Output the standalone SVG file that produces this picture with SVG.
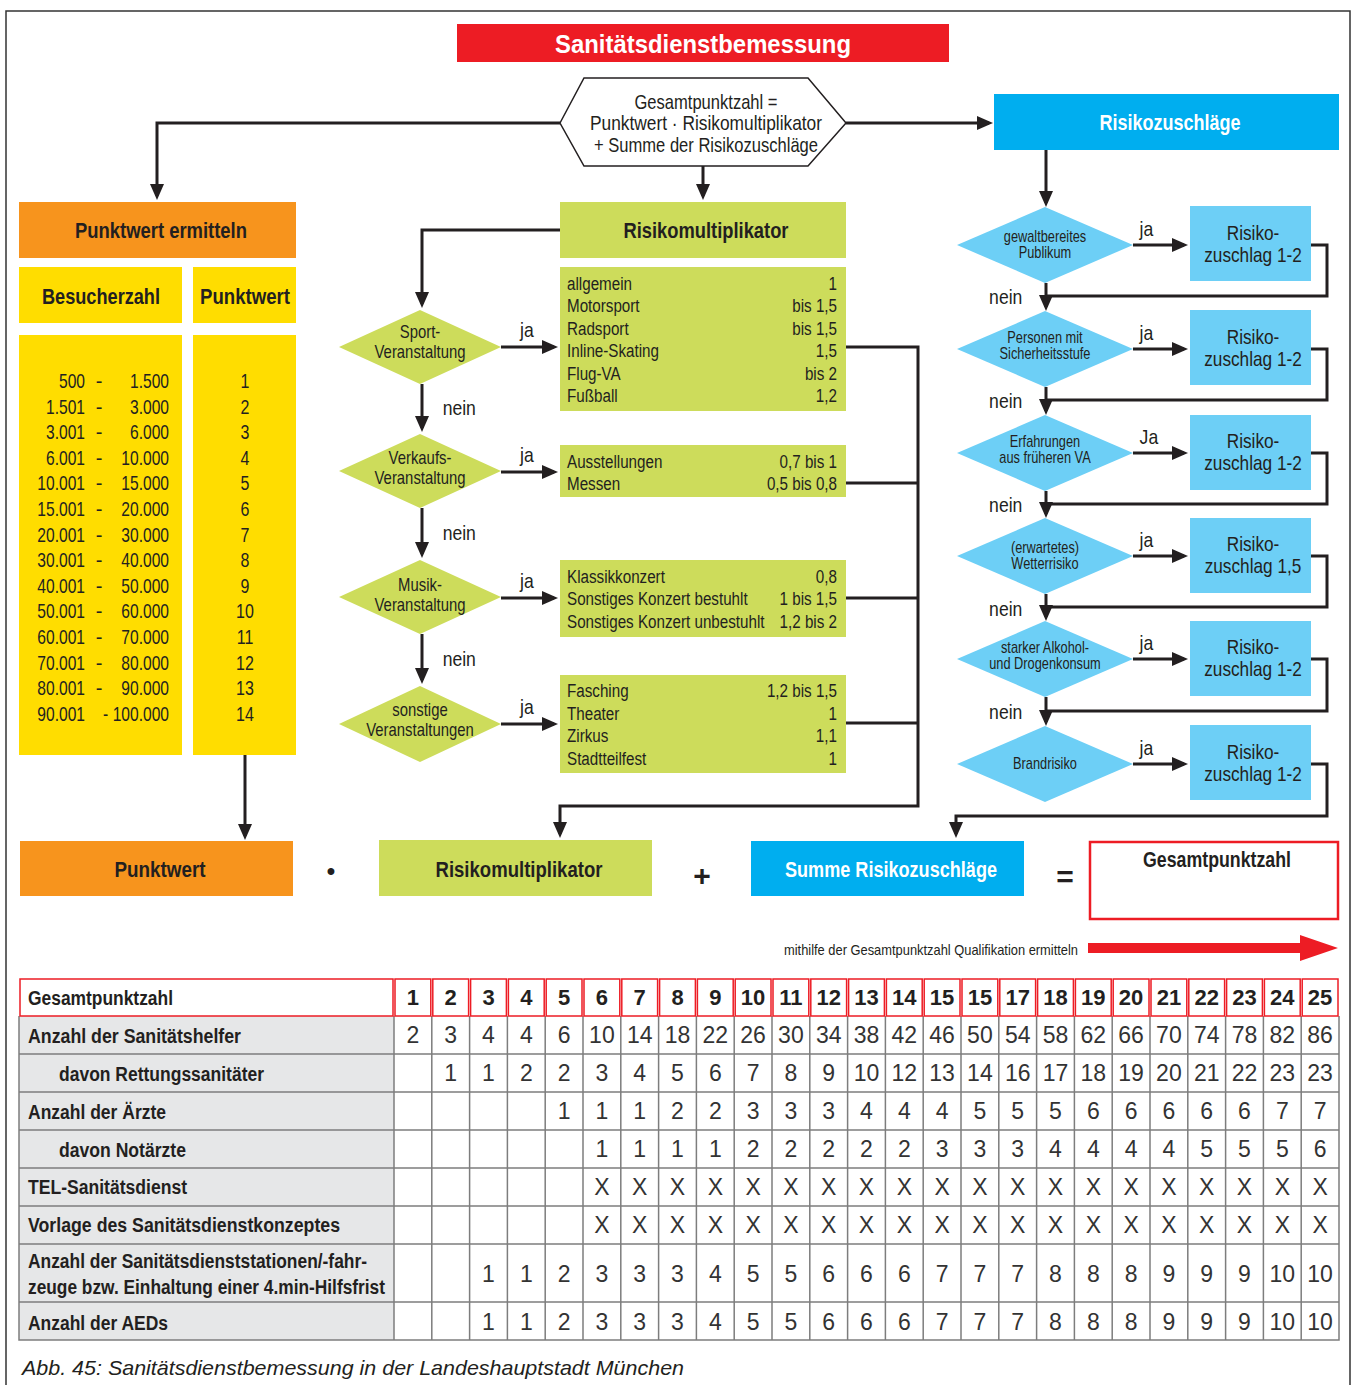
<svg xmlns="http://www.w3.org/2000/svg" width="1353" height="1385" viewBox="0 0 1353 1385">
<style>
text{font-family:"Liberation Sans",Arial,sans-serif;fill:#231F20}
.b{font-weight:bold}
.c{text-anchor:middle}
.e{text-anchor:end}
.w{fill:#fff}
.ln{fill:none;stroke:#231F20;stroke-width:3}
.lna{fill:none;stroke:#231F20;stroke-width:3;marker-end:url(#ah)}
.org{fill:#F7941D}
.yel{fill:#FFDD00}
.grn{fill:#CDDC5B}
.blu{fill:#00AEEF}
.lbl{fill:#6DCFF6}
.s18{font-size:19px}
.s17{font-size:17.5px}
.s20{font-size:21px}
.hd{font-size:22px;font-weight:bold}
.num{font-size:23px;fill:#333}
.hn{font-size:22px;font-weight:bold}
.lab{font-size:20px;font-weight:bold}
.grid{stroke:#7d7d7d;stroke-width:1.5;fill:none}
.red{fill:none;stroke:#ED1C24;stroke-width:1.5}
</style>
<defs>
<marker id="ah" markerUnits="userSpaceOnUse" viewBox="0 0 16 14" refX="12" refY="7" markerWidth="16" markerHeight="14" orient="auto">
<path d="M0,0 L16,7 L0,14 z" fill="#231F20"/>
</marker>
</defs>
<rect width="1353" height="1385" fill="#fff"/>
<path d="M6,1385 V11 H1350 V1385" fill="none" stroke="#333" stroke-width="1.5"/>

<g id="title">
<rect x="457" y="24" width="492" height="38" fill="#ED1C24"/>
<text x="703" y="53" class="c b w" font-size="25" textLength="296" lengthAdjust="spacingAndGlyphs">Sanitätsdienstbemessung</text>
</g>

<g id="formel">
<polygon points="560,123 584,78 808,78 846,123 808,166 584,166" fill="#fff" stroke="#231F20" stroke-width="1.5"/>
<text x="706" y="109" class="c s20" textLength="143" lengthAdjust="spacingAndGlyphs">Gesamtpunktzahl =</text>
<text x="706" y="130" class="c s20" textLength="232" lengthAdjust="spacingAndGlyphs">Punktwert · Risikomultiplikator</text>
<text x="706" y="152" class="c s20" textLength="224" lengthAdjust="spacingAndGlyphs">+ Summe der Risikozuschläge</text>
</g>

<g id="risikozuschlaege">
<rect x="994" y="94" width="345" height="56" class="blu"/>
<text x="1170" y="130" class="c hd w" textLength="141" lengthAdjust="spacingAndGlyphs">Risikozuschläge</text>
</g>

<g id="punktwert-ermitteln">
<rect x="19" y="202" width="277" height="56" class="org"/>
<text x="161" y="238" class="c hd" textLength="172" lengthAdjust="spacingAndGlyphs">Punktwert ermitteln</text>
</g>

<g id="besucherzahl">
<rect x="19" y="267" width="163" height="56" class="yel"/>
<text x="101" y="304" class="c hd" textLength="118" lengthAdjust="spacingAndGlyphs">Besucherzahl</text>
<rect x="19" y="335" width="163" height="420" class="yel"/>
<g font-size="20" class="e" transform="matrix(0.78,0,0,1,18.7,0)">
<text x="85" y="388">500</text><text x="85" y="413.6">1.501</text><text x="85" y="439.2">3.001</text><text x="85" y="464.8">6.001</text>
<text x="85" y="490.4">10.001</text><text x="85" y="516">15.001</text><text x="85" y="541.6">20.001</text><text x="85" y="567.2">30.001</text>
<text x="85" y="592.8">40.001</text><text x="85" y="618.4">50.001</text><text x="85" y="644">60.001</text><text x="85" y="669.6">70.001</text>
<text x="85" y="695.2">80.001</text><text x="85" y="720.8">90.001</text>
</g>
<g font-size="20" class="c">
<text x="99" y="388">-</text><text x="99" y="413.6">-</text><text x="99" y="439.2">-</text><text x="99" y="464.8">-</text>
<text x="99" y="490.4">-</text><text x="99" y="516">-</text><text x="99" y="541.6">-</text><text x="99" y="567.2">-</text>
<text x="99" y="592.8">-</text><text x="99" y="618.4">-</text><text x="99" y="644">-</text><text x="99" y="669.6">-</text>
<text x="99" y="695.2">-</text>
</g>
<g font-size="20" class="e" transform="matrix(0.78,0,0,1,37.18,0)">
<text x="169" y="388">1.500</text><text x="169" y="413.6">3.000</text><text x="169" y="439.2">6.000</text><text x="169" y="464.8">10.000</text>
<text x="169" y="490.4">15.000</text><text x="169" y="516">20.000</text><text x="169" y="541.6">30.000</text><text x="169" y="567.2">40.000</text>
<text x="169" y="592.8">50.000</text><text x="169" y="618.4">60.000</text><text x="169" y="644">70.000</text><text x="169" y="669.6">80.000</text>
<text x="169" y="695.2">90.000</text><text x="169" y="720.8">- 100.000</text>
</g>
</g>

<g id="punktwert-tabelle">
<rect x="193" y="267" width="103" height="56" class="yel"/>
<text x="245" y="304" class="c hd" textLength="90" lengthAdjust="spacingAndGlyphs">Punktwert</text>
<rect x="193" y="335" width="103" height="420" class="yel"/>
<g font-size="20" class="c" transform="matrix(0.8,0,0,1,49,0)">
<text x="245" y="388">1</text><text x="245" y="413.6">2</text><text x="245" y="439.2">3</text><text x="245" y="464.8">4</text>
<text x="245" y="490.4">5</text><text x="245" y="516">6</text><text x="245" y="541.6">7</text><text x="245" y="567.2">8</text>
<text x="245" y="592.8">9</text><text x="245" y="618.4">10</text><text x="245" y="644">11</text><text x="245" y="669.6">12</text>
<text x="245" y="695.2">13</text><text x="245" y="720.8">14</text>
</g>
</g>

<g id="risikomultiplikator">
<rect x="560" y="202" width="286" height="56" class="grn"/>
<text x="706" y="238" class="c hd" textLength="165" lengthAdjust="spacingAndGlyphs">Risikomultiplikator</text>
</g>

<g id="d-sport">
<polygon points="339,347 420,310 501,347 420,384" class="grn"/>
<g class="c s17" transform="matrix(0.85,0,0,1,63,0)">
<text x="420" y="338">Sport-</text>
<text x="420" y="358">Veranstaltung</text>
</g>
</g>
<g id="d-verkauf">
<polygon points="339,471 420,434 501,471 420,508" class="grn"/>
<g class="c s17" transform="matrix(0.85,0,0,1,63,0)">
<text x="420" y="464">Verkaufs-</text>
<text x="420" y="484">Veranstaltung</text>
</g>
</g>
<g id="d-musik">
<polygon points="339,597 420,560 501,597 420,634" class="grn"/>
<g class="c s17" transform="matrix(0.85,0,0,1,63,0)">
<text x="420" y="591">Musik-</text>
<text x="420" y="611">Veranstaltung</text>
</g>
</g>
<g id="d-sonstige">
<polygon points="339,724 420,686 501,724 420,762" class="grn"/>
<g class="c s17" transform="matrix(0.85,0,0,1,63,0)">
<text x="420" y="716">sonstige</text>
<text x="420" y="736">Veranstaltungen</text>
</g>
</g>

<g id="liste-sport">
<rect x="560" y="267" width="286" height="144" class="grn"/>
<g class="s18" transform="matrix(0.8,0,0,1,113.4,0)">
<text x="567" y="290">allgemein</text><text x="567" y="312.5">Motorsport</text><text x="567" y="335">Radsport</text>
<text x="567" y="357.5">Inline-Skating</text><text x="567" y="380">Flug-VA</text><text x="567" y="402.5">Fußball</text>
</g>
<g class="s18 e" transform="matrix(0.8,0,0,1,167.4,0)">
<text x="837" y="290">1</text><text x="837" y="312.5">bis 1,5</text><text x="837" y="335">bis 1,5</text>
<text x="837" y="357.5">1,5</text><text x="837" y="380">bis 2</text><text x="837" y="402.5">1,2</text>
</g>
</g>
<g id="liste-verkauf">
<rect x="560" y="445" width="286" height="52" class="grn"/>
<g class="s18" transform="matrix(0.8,0,0,1,113.4,0)">
<text x="567" y="468">Ausstellungen</text><text x="567" y="490.5">Messen</text>
</g>
<g class="s18 e" transform="matrix(0.8,0,0,1,167.4,0)">
<text x="837" y="468">0,7 bis 1</text><text x="837" y="490.5">0,5 bis 0,8</text>
</g>
</g>
<g id="liste-musik">
<rect x="560" y="560" width="286" height="77" class="grn"/>
<g class="s18" transform="matrix(0.8,0,0,1,113.4,0)">
<text x="567" y="583">Klassikkonzert</text><text x="567" y="605.5">Sonstiges Konzert bestuhlt</text><text x="567" y="628">Sonstiges Konzert unbestuhlt</text>
</g>
<g class="s18 e" transform="matrix(0.8,0,0,1,167.4,0)">
<text x="837" y="583">0,8</text><text x="837" y="605.5">1 bis 1,5</text><text x="837" y="628">1,2 bis 2</text>
</g>
</g>
<g id="liste-sonstige">
<rect x="560" y="675" width="286" height="98" class="grn"/>
<g class="s18" transform="matrix(0.8,0,0,1,113.4,0)">
<text x="567" y="697.5">Fasching</text><text x="567" y="720">Theater</text><text x="567" y="742.5">Zirkus</text><text x="567" y="765">Stadtteilfest</text>
</g>
<g class="s18 e" transform="matrix(0.8,0,0,1,167.4,0)">
<text x="837" y="697.5">1,2 bis 1,5</text><text x="837" y="720">1</text><text x="837" y="742.5">1,1</text><text x="837" y="765">1</text>
</g>
</g>

<g id="r-gewalt">
<polygon points="957,245 1045,207 1133,245 1045,283" class="lbl"/>
<g class="c" font-size="16" transform="matrix(0.8,0,0,1,209,0)">
<text x="1045" y="242">gewaltbereites</text>
<text x="1045" y="258">Publikum</text>
</g>
</g>
<g id="r-personen">
<polygon points="957,349 1045,311 1133,349 1045,387" class="lbl"/>
<g class="c" font-size="16" transform="matrix(0.8,0,0,1,209,0)">
<text x="1045" y="343">Personen mit</text>
<text x="1045" y="359">Sicherheitsstufe</text>
</g>
</g>
<g id="r-erfahrung">
<polygon points="957,453 1045,415 1133,453 1045,491" class="lbl"/>
<g class="c" font-size="16" transform="matrix(0.8,0,0,1,209,0)">
<text x="1045" y="447">Erfahrungen</text>
<text x="1045" y="463">aus früheren VA</text>
</g>
</g>
<g id="r-wetter">
<polygon points="957,556 1045,518 1133,556 1045,594" class="lbl"/>
<g class="c" font-size="16" transform="matrix(0.8,0,0,1,209,0)">
<text x="1045" y="553">(erwartetes)</text>
<text x="1045" y="569">Wetterrisiko</text>
</g>
</g>
<g id="r-alkohol">
<polygon points="957,659 1045,621 1133,659 1045,697" class="lbl"/>
<g class="c" font-size="16" transform="matrix(0.8,0,0,1,209,0)">
<text x="1045" y="653">starker Alkohol-</text>
<text x="1045" y="669">und Drogenkonsum</text>
</g>
</g>
<g id="r-brand">
<polygon points="957,764 1045,726 1133,764 1045,802" class="lbl"/>
<g class="c" font-size="16" transform="matrix(0.8,0,0,1,209,0)">
<text x="1045" y="769">Brandrisiko</text>
</g>
</g>

<g id="z1"><rect x="1190" y="206" width="121" height="75" class="lbl"/><g class="c s20" transform="matrix(0.82,0,0,1,225.54,0)"><text x="1253" y="240">Risiko-</text><text x="1253" y="262">zuschlag 1-2</text></g></g>
<g id="z2"><rect x="1190" y="310" width="121" height="75" class="lbl"/><g class="c s20" transform="matrix(0.82,0,0,1,225.54,0)"><text x="1253" y="344">Risiko-</text><text x="1253" y="366">zuschlag 1-2</text></g></g>
<g id="z3"><rect x="1190" y="415" width="121" height="75" class="lbl"/><g class="c s20" transform="matrix(0.82,0,0,1,225.54,0)"><text x="1253" y="448">Risiko-</text><text x="1253" y="470">zuschlag 1-2</text></g></g>
<g id="z4"><rect x="1190" y="518" width="121" height="75" class="lbl"/><g class="c s20" transform="matrix(0.82,0,0,1,225.54,0)"><text x="1253" y="551">Risiko-</text><text x="1253" y="573">zuschlag 1,5</text></g></g>
<g id="z5"><rect x="1190" y="621" width="121" height="75" class="lbl"/><g class="c s20" transform="matrix(0.82,0,0,1,225.54,0)"><text x="1253" y="654">Risiko-</text><text x="1253" y="676">zuschlag 1-2</text></g></g>
<g id="z6"><rect x="1190" y="725" width="121" height="75" class="lbl"/><g class="c s20" transform="matrix(0.82,0,0,1,225.54,0)"><text x="1253" y="759">Risiko-</text><text x="1253" y="781">zuschlag 1-2</text></g></g>

<g id="connectors">
<path class="lna" d="M560,123 H157 V196"/>
<path class="lna" d="M703,166 V196"/>
<path class="lna" d="M846,123 H989"/>
<path class="lna" d="M245,755 V836"/>
<path class="lna" d="M560,230 H422 V304"/>
<path class="lna" d="M422,384 V428"/>
<path class="lna" d="M422,508 V554"/>
<path class="lna" d="M422,634 V680"/>
<path class="lna" d="M501,347 H554"/>
<path class="lna" d="M501,472 H554"/>
<path class="lna" d="M501,598 H554"/>
<path class="lna" d="M501,724 H554"/>
<path class="lna" d="M846,347 H918 V806 H560 V834"/>
<path class="ln" d="M846,483 H918 M846,598 H918 M846,723 H918"/>
<path class="lna" d="M1046,150 V203"/>
<path class="lna" d="M1046,283 V307"/>
<path class="lna" d="M1046,387 V411"/>
<path class="lna" d="M1046,491 V514"/>
<path class="lna" d="M1046,594 V617"/>
<path class="lna" d="M1046,697 V722"/>
<path class="lna" d="M1133,245 H1184"/>
<path class="lna" d="M1133,349 H1184"/>
<path class="lna" d="M1133,453 H1184"/>
<path class="lna" d="M1133,556 H1184"/>
<path class="lna" d="M1133,659 H1184"/>
<path class="lna" d="M1133,764 H1184"/>
<path class="ln" d="M1311,245 H1327 V296 H1046"/>
<path class="ln" d="M1311,349 H1327 V400 H1046"/>
<path class="ln" d="M1311,453 H1327 V504 H1046"/>
<path class="ln" d="M1311,556 H1327 V607 H1046"/>
<path class="ln" d="M1311,659 H1327 V711 H1046"/>
<path class="lna" d="M1311,764 H1327 V816 H956 V834"/>
<g font-size="20" transform="matrix(0.88,0,0,1,0,0)">
<text x="591" y="337">ja</text><text x="591" y="462">ja</text><text x="591" y="588">ja</text><text x="591" y="714">ja</text>
<text x="503" y="415">nein</text><text x="503" y="540">nein</text><text x="503" y="666">nein</text>
<text x="1295" y="236">ja</text><text x="1295" y="340">ja</text><text x="1295" y="444">Ja</text><text x="1295" y="547">ja</text><text x="1295" y="650">ja</text><text x="1295" y="755">ja</text>
<text x="1124" y="304">nein</text><text x="1124" y="408">nein</text><text x="1124" y="512">nein</text><text x="1124" y="616">nein</text><text x="1124" y="719">nein</text>
</g>
</g>

<g id="eq-punktwert">
<rect x="20" y="841" width="273" height="55" class="org"/>
<text x="160" y="877" class="c hd" textLength="91" lengthAdjust="spacingAndGlyphs">Punktwert</text>
</g>
<text x="331" y="879" class="c b" font-size="24">•</text>
<g id="eq-risikomultiplikator">
<rect x="379" y="840" width="273" height="56" class="grn"/>
<text x="519" y="877" class="c hd" textLength="167" lengthAdjust="spacingAndGlyphs">Risikomultiplikator</text>
</g>
<text x="702" y="886" class="c b" font-size="30">+</text>
<g id="eq-summe">
<rect x="751" y="841" width="273" height="55" class="blu"/>
<text x="891" y="877" class="c hd w" textLength="212" lengthAdjust="spacingAndGlyphs">Summe Risikozuschläge</text>
</g>
<text x="1065" y="887" class="c b" font-size="30">=</text>
<g id="eq-gesamtpunktzahl">
<rect x="1090" y="842" width="248" height="77" fill="#fff" stroke="#ED1C24" stroke-width="2.5"/>
<text x="1217" y="867" class="c hd" textLength="148" lengthAdjust="spacingAndGlyphs">Gesamtpunktzahl</text>
</g>

<g id="qualifikation">
<text x="1078" y="955" class="e" font-size="15" fill="#333" textLength="294" lengthAdjust="spacingAndGlyphs">mithilfe der Gesamtpunktzahl Qualifikation ermitteln</text>
<path d="M1088,943 H1300 V935 L1338,948 L1300,961 V953 H1088 Z" fill="#ED1C24"/>
</g>

<g id="tabelle">
<rect x="19" y="1016" width="375" height="324" fill="#E6E7E8"/>
<g class="grid">
<path d="M19,1016 V1340 H1339 V1016 M19,1054 H1339 M19,1092 H1339 M19,1130 H1339 M19,1168 H1339 M19,1206 H1339 M19,1244 H1339 M19,1302 H1339"/>
<path d="M394,1016 V1340 M431.8,1016 V1340 M469.6,1016 V1340 M507.4,1016 V1340 M545.2,1016 V1340 M583,1016 V1340 M620.8,1016 V1340 M658.6,1016 V1340 M696.4,1016 V1340 M734.2,1016 V1340 M772,1016 V1340 M809.8,1016 V1340 M847.6,1016 V1340 M885.4,1016 V1340 M923.2,1016 V1340 M961,1016 V1340 M998.8,1016 V1340 M1036.6,1016 V1340 M1074.4,1016 V1340 M1112.2,1016 V1340 M1150,1016 V1340 M1187.8,1016 V1340 M1225.6,1016 V1340 M1263.4,1016 V1340 M1301.2,1016 V1340"/>
</g>
<g class="red">
<rect x="20" y="979" width="373" height="37"/>
<rect x="395" y="979" width="35.8" height="37"/><rect x="432.8" y="979" width="35.8" height="37"/><rect x="470.6" y="979" width="35.8" height="37"/><rect x="508.4" y="979" width="35.8" height="37"/><rect x="546.2" y="979" width="35.8" height="37"/>
<rect x="584" y="979" width="35.8" height="37"/><rect x="621.8" y="979" width="35.8" height="37"/><rect x="659.6" y="979" width="35.8" height="37"/><rect x="697.4" y="979" width="35.8" height="37"/><rect x="735.2" y="979" width="35.8" height="37"/>
<rect x="773" y="979" width="35.8" height="37"/><rect x="810.8" y="979" width="35.8" height="37"/><rect x="848.6" y="979" width="35.8" height="37"/><rect x="886.4" y="979" width="35.8" height="37"/><rect x="924.2" y="979" width="35.8" height="37"/>
<rect x="962" y="979" width="35.8" height="37"/><rect x="999.8" y="979" width="35.8" height="37"/><rect x="1037.6" y="979" width="35.8" height="37"/><rect x="1075.4" y="979" width="35.8" height="37"/><rect x="1113.2" y="979" width="35.8" height="37"/>
<rect x="1151" y="979" width="35.8" height="37"/><rect x="1188.8" y="979" width="35.8" height="37"/><rect x="1226.6" y="979" width="35.8" height="37"/><rect x="1264.4" y="979" width="35.8" height="37"/><rect x="1302.2" y="979" width="35.8" height="37"/>
</g>
<text x="28" y="1005" class="lab" textLength="145" lengthAdjust="spacingAndGlyphs">Gesamtpunktzahl</text>
<text x="28" y="1043" class="lab" textLength="213" lengthAdjust="spacingAndGlyphs">Anzahl der Sanitätshelfer</text>
<text x="59" y="1081" class="lab" textLength="205" lengthAdjust="spacingAndGlyphs">davon Rettungssanitäter</text>
<text x="28" y="1119" class="lab" textLength="138" lengthAdjust="spacingAndGlyphs">Anzahl der Ärzte</text>
<text x="59" y="1157" class="lab" textLength="127" lengthAdjust="spacingAndGlyphs">davon Notärzte</text>
<text x="28" y="1194" class="lab" textLength="159" lengthAdjust="spacingAndGlyphs">TEL-Sanitätsdienst</text>
<text x="28" y="1232" class="lab" textLength="312" lengthAdjust="spacingAndGlyphs">Vorlage des Sanitätsdienstkonzeptes</text>
<text x="28" y="1268" class="lab" textLength="339" lengthAdjust="spacingAndGlyphs">Anzahl der Sanitätsdienststationen/-fahr-</text>
<text x="28" y="1294" class="lab" textLength="357" lengthAdjust="spacingAndGlyphs">zeuge bzw. Einhaltung einer 4.min-Hilfsfrist</text>
<text x="28" y="1330" class="lab" textLength="140" lengthAdjust="spacingAndGlyphs">Anzahl der AEDs</text>

<text y="1005" class="c hn"><tspan x="412.9">1</tspan><tspan x="450.7">2</tspan><tspan x="488.5">3</tspan><tspan x="526.3">4</tspan><tspan x="564.1">5</tspan><tspan x="601.9">6</tspan><tspan x="639.7">7</tspan><tspan x="677.5">8</tspan><tspan x="715.3">9</tspan><tspan x="753.1">10</tspan><tspan x="790.9">11</tspan><tspan x="828.7">12</tspan><tspan x="866.5">13</tspan><tspan x="904.3">14</tspan><tspan x="942.1">15</tspan><tspan x="979.9">15</tspan><tspan x="1017.7">17</tspan><tspan x="1055.5">18</tspan><tspan x="1093.3">19</tspan><tspan x="1131.1">20</tspan><tspan x="1168.9">21</tspan><tspan x="1206.7">22</tspan><tspan x="1244.5">23</tspan><tspan x="1282.3">24</tspan><tspan x="1320.1">25</tspan></text>

<text y="1043" class="c num"><tspan x="412.9">2</tspan><tspan x="450.7">3</tspan><tspan x="488.5">4</tspan><tspan x="526.3">4</tspan><tspan x="564.1">6</tspan><tspan x="601.9">10</tspan><tspan x="639.7">14</tspan><tspan x="677.5">18</tspan><tspan x="715.3">22</tspan><tspan x="753.1">26</tspan><tspan x="790.9">30</tspan><tspan x="828.7">34</tspan><tspan x="866.5">38</tspan><tspan x="904.3">42</tspan><tspan x="942.1">46</tspan><tspan x="979.9">50</tspan><tspan x="1017.7">54</tspan><tspan x="1055.5">58</tspan><tspan x="1093.3">62</tspan><tspan x="1131.1">66</tspan><tspan x="1168.9">70</tspan><tspan x="1206.7">74</tspan><tspan x="1244.5">78</tspan><tspan x="1282.3">82</tspan><tspan x="1320.1">86</tspan></text>

<text y="1081" class="c num"><tspan x="450.7">1</tspan><tspan x="488.5">1</tspan><tspan x="526.3">2</tspan><tspan x="564.1">2</tspan><tspan x="601.9">3</tspan><tspan x="639.7">4</tspan><tspan x="677.5">5</tspan><tspan x="715.3">6</tspan><tspan x="753.1">7</tspan><tspan x="790.9">8</tspan><tspan x="828.7">9</tspan><tspan x="866.5">10</tspan><tspan x="904.3">12</tspan><tspan x="942.1">13</tspan><tspan x="979.9">14</tspan><tspan x="1017.7">16</tspan><tspan x="1055.5">17</tspan><tspan x="1093.3">18</tspan><tspan x="1131.1">19</tspan><tspan x="1168.9">20</tspan><tspan x="1206.7">21</tspan><tspan x="1244.5">22</tspan><tspan x="1282.3">23</tspan><tspan x="1320.1">23</tspan></text>

<text y="1119" class="c num"><tspan x="564.1">1</tspan><tspan x="601.9">1</tspan><tspan x="639.7">1</tspan><tspan x="677.5">2</tspan><tspan x="715.3">2</tspan><tspan x="753.1">3</tspan><tspan x="790.9">3</tspan><tspan x="828.7">3</tspan><tspan x="866.5">4</tspan><tspan x="904.3">4</tspan><tspan x="942.1">4</tspan><tspan x="979.9">5</tspan><tspan x="1017.7">5</tspan><tspan x="1055.5">5</tspan><tspan x="1093.3">6</tspan><tspan x="1131.1">6</tspan><tspan x="1168.9">6</tspan><tspan x="1206.7">6</tspan><tspan x="1244.5">6</tspan><tspan x="1282.3">7</tspan><tspan x="1320.1">7</tspan></text>

<text y="1157" class="c num"><tspan x="601.9">1</tspan><tspan x="639.7">1</tspan><tspan x="677.5">1</tspan><tspan x="715.3">1</tspan><tspan x="753.1">2</tspan><tspan x="790.9">2</tspan><tspan x="828.7">2</tspan><tspan x="866.5">2</tspan><tspan x="904.3">2</tspan><tspan x="942.1">3</tspan><tspan x="979.9">3</tspan><tspan x="1017.7">3</tspan><tspan x="1055.5">4</tspan><tspan x="1093.3">4</tspan><tspan x="1131.1">4</tspan><tspan x="1168.9">4</tspan><tspan x="1206.7">5</tspan><tspan x="1244.5">5</tspan><tspan x="1282.3">5</tspan><tspan x="1320.1">6</tspan></text>

<text y="1195" class="c num"><tspan x="601.9">X</tspan><tspan x="639.7">X</tspan><tspan x="677.5">X</tspan><tspan x="715.3">X</tspan><tspan x="753.1">X</tspan><tspan x="790.9">X</tspan><tspan x="828.7">X</tspan><tspan x="866.5">X</tspan><tspan x="904.3">X</tspan><tspan x="942.1">X</tspan><tspan x="979.9">X</tspan><tspan x="1017.7">X</tspan><tspan x="1055.5">X</tspan><tspan x="1093.3">X</tspan><tspan x="1131.1">X</tspan><tspan x="1168.9">X</tspan><tspan x="1206.7">X</tspan><tspan x="1244.5">X</tspan><tspan x="1282.3">X</tspan><tspan x="1320.1">X</tspan></text>

<text y="1233" class="c num"><tspan x="601.9">X</tspan><tspan x="639.7">X</tspan><tspan x="677.5">X</tspan><tspan x="715.3">X</tspan><tspan x="753.1">X</tspan><tspan x="790.9">X</tspan><tspan x="828.7">X</tspan><tspan x="866.5">X</tspan><tspan x="904.3">X</tspan><tspan x="942.1">X</tspan><tspan x="979.9">X</tspan><tspan x="1017.7">X</tspan><tspan x="1055.5">X</tspan><tspan x="1093.3">X</tspan><tspan x="1131.1">X</tspan><tspan x="1168.9">X</tspan><tspan x="1206.7">X</tspan><tspan x="1244.5">X</tspan><tspan x="1282.3">X</tspan><tspan x="1320.1">X</tspan></text>

<text y="1282" class="c num"><tspan x="488.5">1</tspan><tspan x="526.3">1</tspan><tspan x="564.1">2</tspan><tspan x="601.9">3</tspan><tspan x="639.7">3</tspan><tspan x="677.5">3</tspan><tspan x="715.3">4</tspan><tspan x="753.1">5</tspan><tspan x="790.9">5</tspan><tspan x="828.7">6</tspan><tspan x="866.5">6</tspan><tspan x="904.3">6</tspan><tspan x="942.1">7</tspan><tspan x="979.9">7</tspan><tspan x="1017.7">7</tspan><tspan x="1055.5">8</tspan><tspan x="1093.3">8</tspan><tspan x="1131.1">8</tspan><tspan x="1168.9">9</tspan><tspan x="1206.7">9</tspan><tspan x="1244.5">9</tspan><tspan x="1282.3">10</tspan><tspan x="1320.1">10</tspan></text>

<text y="1330" class="c num"><tspan x="488.5">1</tspan><tspan x="526.3">1</tspan><tspan x="564.1">2</tspan><tspan x="601.9">3</tspan><tspan x="639.7">3</tspan><tspan x="677.5">3</tspan><tspan x="715.3">4</tspan><tspan x="753.1">5</tspan><tspan x="790.9">5</tspan><tspan x="828.7">6</tspan><tspan x="866.5">6</tspan><tspan x="904.3">6</tspan><tspan x="942.1">7</tspan><tspan x="979.9">7</tspan><tspan x="1017.7">7</tspan><tspan x="1055.5">8</tspan><tspan x="1093.3">8</tspan><tspan x="1131.1">8</tspan><tspan x="1168.9">9</tspan><tspan x="1206.7">9</tspan><tspan x="1244.5">9</tspan><tspan x="1282.3">10</tspan><tspan x="1320.1">10</tspan></text>
</g>

<text x="22" y="1375" font-size="21" font-style="italic" fill="#3a3a3a" textLength="662" lengthAdjust="spacingAndGlyphs">Abb. 45: Sanitätsdienstbemessung in der Landeshauptstadt München</text>
</svg>
